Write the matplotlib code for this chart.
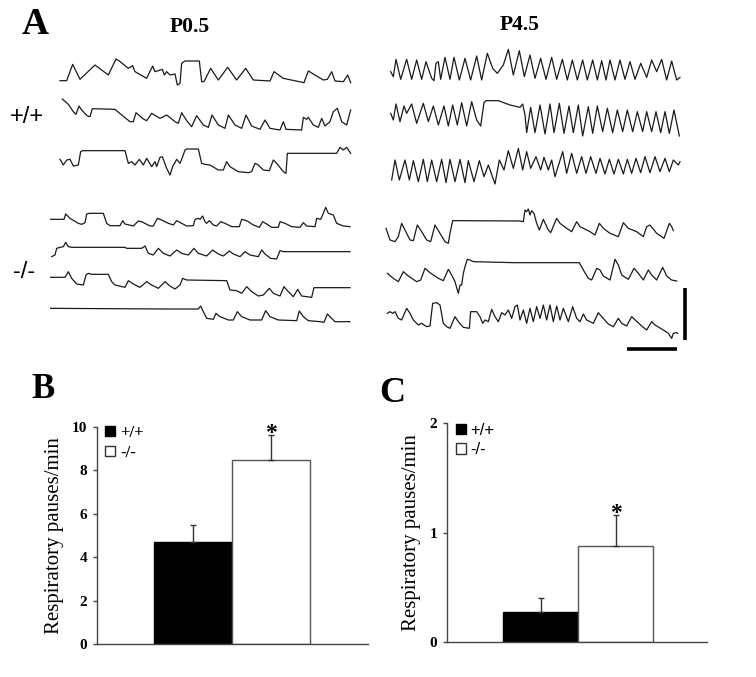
import matplotlib
matplotlib.use("Agg")
import matplotlib.pyplot as plt
from matplotlib.patches import Patch
import numpy as np

plt.rcParams['font.family'] = ['Liberation Serif', 'DejaVu Serif']

# ---- panel A: breathing traces (time, amplitude) in arbitrary units ----
# P0.5, +/+
p05_wt1_t = [180, 200, 218, 240, 285, 325, 348, 358, 385, 398, 405, 440, 458, 465, 487, 493, 500, 510, 525, 532, 540, 545, 555, 598, 605, 612, 632, 655, 683, 710, 737, 760, 810, 822, 850, 912, 925, 970, 982, 995, 1005, 1030, 1043, 1052]
p05_wt1_v = [13, 13, 62, 17, 60, 30, 78, 72, 50, 58, 40, 20, 57, 40, 47, 30, 40, 30, 33, 0, 5, 65, 72, 72, 10, 10, 50, 15, 53, 15, 50, 15, 12, 40, 20, 7, 42, 15, 17, 40, 12, 10, 30, 7]
p05_wt2_t = [187, 205, 220, 228, 237, 245, 262, 270, 277, 345, 365, 390, 400, 408, 430, 440, 455, 480, 500, 525, 535, 545, 560, 575, 590, 610, 625, 636, 655, 675, 685, 705, 725, 738, 755, 780, 795, 810, 840, 850, 858, 905, 910, 920, 925, 940, 955, 965, 975, 990, 1000, 1012, 1025, 1040, 1052]
p05_wt2_v = [93, 77, 55, 47, 72, 60, 42, 40, 64, 62, 45, 25, 25, 52, 33, 28, 50, 35, 45, 25, 20, 52, 28, 10, 43, 15, 8, 45, 15, 5, 45, 15, 5, 45, 12, 2, 30, 5, 0, 25, 2, 0, 38, 32, 38, 15, 8, 35, 12, 25, 55, 65, 25, 15, 60]
p05_wt3_t = [180, 190, 200, 210, 220, 235, 242, 248, 375, 385, 395, 405, 418, 430, 440, 455, 465, 470, 480, 487, 500, 510, 518, 530, 540, 548, 555, 560, 595, 605, 615, 630, 655, 670, 680, 690, 715, 745, 755, 765, 775, 790, 808, 820, 830, 850, 858, 862, 1010, 1020, 1030, 1040, 1052]
p05_wt3_v = [47, 30, 45, 47, 27, 30, 70, 73, 73, 35, 40, 30, 47, 30, 50, 25, 40, 25, 53, 55, 20, 0, 25, 47, 35, 55, 75, 78, 78, 35, 32, 30, 15, 15, 40, 25, 10, 7, 10, 35, 30, 15, 13, 45, 35, 10, 5, 65, 65, 83, 75, 83, 65]
# P0.5, -/-
p05_ko1_t = [152, 192, 197, 210, 235, 245, 255, 260, 268, 310, 320, 330, 360, 368, 375, 400, 415, 425, 450, 460, 472, 485, 505, 520, 530, 545, 560, 580, 585, 595, 600, 608, 615, 620, 628, 640, 650, 662, 675, 695, 718, 725, 740, 760, 778, 788, 800, 815, 835, 840, 855, 875, 900, 910, 920, 945, 950, 962, 970, 977, 985, 1000, 1010, 1030, 1050]
p05_ko1_v = [24, 24, 40, 27, 12, 9, 14, 40, 42, 42, 12, 5, 5, 20, 10, 4, 19, 17, 4, 4, 27, 22, 12, 7, 20, 12, 4, 5, 24, 27, 24, 34, 17, 12, 20, 7, 4, 17, 12, 2, 2, 24, 20, 7, 0, 17, 10, 0, 0, 17, 12, 2, 0, 14, 4, 2, 27, 24, 42, 60, 42, 37, 12, 4, 2]
p05_ko2_t = [155, 165, 170, 180, 190, 197, 205, 215, 375, 380, 425, 435, 445, 460, 475, 490, 510, 530, 545, 565, 582, 595, 620, 638, 655, 670, 688, 700, 720, 735, 750, 775, 785, 795, 812, 830, 840, 850, 1050]
p05_ko2_v = [7, 12, 32, 35, 37, 50, 37, 35, 35, 32, 32, 39, 17, 12, 32, 17, 9, 27, 17, 12, 32, 17, 9, 27, 15, 9, 24, 15, 7, 22, 12, 7, 27, 15, 2, 0, 25, 22, 22]
p05_ko3_t = [152, 195, 205, 215, 230, 250, 258, 265, 275, 325, 335, 345, 375, 385, 400, 420, 440, 455, 475, 495, 510, 525, 540, 548, 560, 680, 690, 710, 725, 740, 755, 775, 790, 808, 820, 840, 852, 865, 880, 893, 905, 935, 942, 1050]
p05_ko3_v = [60, 60, 77, 57, 40, 37, 67, 72, 69, 69, 47, 37, 30, 50, 40, 30, 47, 37, 27, 47, 34, 25, 37, 57, 52, 50, 22, 20, 12, 32, 17, 4, 7, 27, 12, 4, 32, 17, 2, 24, 4, 0, 29, 29]
p05_ko4_t = [152, 500, 595, 602, 610, 620, 640, 648, 660, 685, 700, 712, 725, 750, 785, 797, 810, 835, 890, 898, 910, 925, 960, 972, 982, 990, 1005, 1050]
p05_ko4_v = [42, 40, 40, 49, 32, 12, 9, 27, 17, 7, 7, 32, 17, 7, 7, 35, 17, 7, 5, 34, 17, 5, 2, 0, 25, 17, 2, 2]
# P4.5, +/+
p45_wt1_t = [32, 40, 48, 62, 80, 95, 110, 125, 138, 155, 162, 168, 175, 182, 195, 210, 222, 238, 255, 272, 290, 305, 322, 338, 352, 370, 385, 400, 418, 433, 450, 465, 482, 498, 515, 530, 547, 562, 577, 592, 608, 622, 638, 652, 665, 678, 690, 705, 720, 735, 750, 765, 782, 800, 815, 830, 845, 860, 875, 890, 900]
p45_wt1_v = [27, 12, 64, 4, 64, 4, 62, 4, 57, 7, 0, 52, 57, 4, 70, 4, 70, 2, 67, 2, 74, 2, 82, 37, 22, 47, 94, 17, 90, 12, 77, 7, 67, 4, 70, 4, 64, 2, 62, 2, 62, 2, 62, 2, 60, 2, 62, 2, 62, 4, 57, 4, 52, 10, 62, 27, 64, 2, 59, 2, 10]
p45_wt2_t = [32, 40, 48, 60, 72, 80, 95, 110, 130, 145, 160, 175, 192, 205, 218, 232, 245, 260, 275, 290, 302, 312, 318, 355, 390, 420, 428, 435, 440, 452, 465, 480, 495, 510, 522, 538, 552, 567, 580, 595, 608, 625, 638, 652, 668, 682, 698, 712, 728, 742, 758, 772, 788, 800, 815, 828, 842, 855, 868, 882, 898]
p45_wt2_v = [68, 48, 96, 43, 90, 68, 96, 38, 98, 43, 90, 33, 90, 30, 93, 33, 100, 30, 103, 48, 30, 100, 106, 106, 93, 86, 96, 63, 10, 86, 10, 93, 6, 96, 10, 98, 8, 90, 10, 93, 0, 88, 8, 90, 13, 83, 10, 78, 13, 78, 13, 73, 13, 73, 13, 73, 10, 73, 8, 78, 0]
p45_wt3_t = [35, 45, 58, 75, 88, 100, 115, 130, 142, 155, 170, 185, 198, 210, 225, 240, 255, 265, 282, 298, 312, 325, 345, 358, 372, 385, 400, 415, 428, 440, 452, 468, 482, 492, 505, 515, 525, 548, 560, 575, 590, 605, 618, 632, 648, 660, 675, 688, 702, 715, 730, 742, 755, 768, 782, 795, 810, 825, 840, 855, 868, 880, 895, 900]
p45_wt3_v = [12, 72, 12, 72, 12, 70, 7, 74, 7, 72, 7, 74, 4, 74, 7, 74, 4, 70, 7, 70, 22, 57, 0, 72, 42, 100, 47, 107, 42, 97, 47, 82, 42, 80, 42, 72, 22, 97, 32, 92, 32, 82, 32, 82, 32, 77, 30, 74, 30, 74, 30, 74, 32, 77, 34, 82, 34, 82, 37, 77, 37, 72, 57, 67]
# P4.5, -/-
p45_ko1_t = [18, 30, 45, 55, 65, 80, 90, 100, 112, 125, 140, 152, 165, 180, 195, 205, 210, 218, 235, 420, 430, 435, 440, 445, 450, 455, 462, 470, 478, 490, 505, 512, 530, 540, 560, 575, 590, 600, 630, 645, 658, 670, 690, 715, 730, 745, 770, 790, 800, 810, 830, 852, 868, 875, 880]
p45_ko1_v = [45, 10, 5, 20, 60, 30, 10, 8, 55, 35, 10, 5, 55, 30, 5, 0, 30, 68, 68, 67, 65, 100, 95, 103, 85, 98, 90, 60, 40, 72, 40, 32, 75, 60, 45, 35, 65, 50, 35, 25, 60, 45, 30, 20, 62, 45, 35, 20, 50, 55, 30, 15, 60, 50, 38]
p45_ko2_t = [22, 40, 55, 70, 85, 110, 122, 135, 150, 175, 190, 205, 215, 225, 232, 235, 240, 245, 250, 255, 262, 270, 280, 400, 598, 610, 625, 635, 650, 660, 670, 690, 705, 715, 725, 745, 762, 775, 790, 805, 815, 830, 848, 860, 875, 890]
p45_ko2_v = [60, 45, 35, 65, 52, 35, 40, 75, 62, 45, 38, 72, 55, 35, 10, 0, 25, 25, 60, 80, 102, 100, 95, 92, 92, 70, 45, 40, 75, 70, 52, 40, 102, 85, 55, 42, 75, 60, 40, 70, 55, 40, 78, 52, 40, 37]
p45_ko3_t = [22, 30, 38, 45, 55, 65, 80, 90, 100, 115, 125, 140, 150, 158, 170, 180, 190, 200, 210, 225, 235, 250, 268, 272, 290, 300, 308, 315, 325, 335, 345, 355, 365, 375, 385, 395, 405, 412, 420, 430, 440, 450, 460, 470, 480, 490, 500, 510, 520, 530, 540, 550, 565, 578, 590, 600, 610, 620, 640, 655, 665, 685, 700, 715, 725, 740, 755, 768, 785, 800, 815, 825, 850, 865, 875, 880, 888, 893]
p45_ko3_v = [75, 80, 75, 80, 60, 55, 90, 75, 55, 40, 45, 35, 37, 105, 107, 100, 45, 35, 30, 65, 50, 33, 30, 80, 80, 65, 45, 55, 50, 87, 65, 50, 77, 70, 85, 60, 95, 100, 55, 85, 45, 90, 50, 95, 60, 100, 55, 100, 50, 97, 55, 90, 50, 95, 60, 50, 73, 55, 45, 77, 65, 43, 35, 60, 45, 37, 65, 53, 37, 25, 50, 40, 25, 15, 0, 15, 17, 15]

genotype_labels = ['+/+', '-/-']
ages = ['P0.5', 'P4.5']

# ---- panels B and C: pauses per minute ----
pauses_p05 = [4.7, 8.5]
pauses_p05_sem = [0.78, 1.15]
pauses_p45 = [0.27, 0.88]
pauses_p45_sem = [0.13, 0.28]

W, H = 756, 677
fig = plt.figure(figsize=(W / 100, H / 100), dpi=100)

def fx(px):
    return px / W

def fy(py):
    return 1 - py / H

# trace area (units: 1/3 pixel)
axA = fig.add_axes([0, fy(360), 1, 360 / H])
axA.set_xlim(0, 3 * W)
axA.set_ylim(1080, 0)
axA.axis('off')

left_traces = [(p05_wt1_t, p05_wt1_v), (p05_wt2_t, p05_wt2_v), (p05_wt3_t, p05_wt3_v),
               (p05_ko1_t, p05_ko1_v), (p05_ko2_t, p05_ko2_v), (p05_ko3_t, p05_ko3_v),
               (p05_ko4_t, p05_ko4_v)]
left_rows = [255, 390, 525, 682, 777, 892, 967]
right_traces = [(p45_wt1_t, p45_wt1_v), (p45_wt2_t, p45_wt2_v), (p45_wt3_t, p45_wt3_v),
                (p45_ko1_t, p45_ko1_v), (p45_ko2_t, p45_ko2_v), (p45_ko3_t, p45_ko3_v)]
right_rows = [242, 408, 552, 730, 880, 1015]

for (t, v), row in zip(left_traces, left_rows):
    axA.plot(np.array(t), row - np.array(v), color='#1a1a1a', lw=0.9)
for (t, v), row in zip(right_traces, right_rows):
    axA.plot(np.array(t) + 1140, row - np.array(v), color='#1a1a1a', lw=0.9)

# scale bars
axA.plot([2055, 2055], [864, 1020], color='black', lw=2.6, solid_capstyle='butt')
axA.plot([1881, 2031], [1047, 1047], color='black', lw=2.6, solid_capstyle='butt')

sans = ['Liberation Sans', 'DejaVu Sans']
fig.text(fx(35), fy(25), 'A', fontsize=27, fontweight='bold', ha='center', va='center')
fig.text(fx(190), fy(27), ages[0], fontsize=15.5, fontweight='bold', ha='center', va='center')
fig.text(fx(520), fy(25), ages[1], fontsize=15.5, fontweight='bold', ha='center', va='center')
fig.text(fx(27), fy(117), genotype_labels[0], fontsize=17, family=sans, ha='center', va='center')
fig.text(fx(24), fy(272), genotype_labels[1], fontsize=17, family=sans, ha='center', va='center')
fig.text(fx(43), fy(389), 'B', fontsize=25, fontweight='bold', ha='center', va='center')
fig.text(fx(392), fy(394), 'C', fontsize=26, fontweight='bold', ha='center', va='center')


def bar_panel(rect, vals, errs, ymax, ticks, xlim, legend_prop, anchor):
    ax = fig.add_axes(rect)
    x = np.arange(len(vals))
    ax.bar(x, vals, width=1.0, align='edge', color=['black', 'white'],
           edgecolor=['black', '#555555'], linewidth=1)
    ax.errorbar(x + 0.5, vals, yerr=[np.zeros(len(vals)), errs], fmt='none',
                ecolor='#333333', elinewidth=1, capsize=2, capthick=1)
    ax.set_xlim(*xlim)
    ax.set_ylim(0, ymax)
    ax.set_yticks(ticks)
    ax.set_yticklabels([str(tk) for tk in ticks], fontweight='bold', fontsize=11)
    ax.set_xticks([])
    for s in ['top', 'right']:
        ax.spines[s].set_visible(False)
    for s in ['left', 'bottom']:
        ax.spines[s].set_color('#444444')
        ax.spines[s].set_linewidth(1)
    ax.tick_params(axis='y', length=3, width=1, color='#444444', pad=4)
    ax.set_ylabel('Respiratory pauses/min', fontsize=15, labelpad=6)
    ax.annotate('*', (1.5, vals[1] + errs[1]), xytext=(0, -3), textcoords='offset points',
                fontsize=17, fontweight='bold', ha='center', va='baseline')
    handles = [Patch(facecolor='black', edgecolor='black', label=genotype_labels[0]),
               Patch(facecolor='white', edgecolor='#333333', label=genotype_labels[1])]
    ax.legend(handles=handles, loc='upper left', frameon=False, prop=legend_prop,
              handlelength=0.6, handleheight=0.6, handletextpad=0.3,
              labelspacing=0.25, borderpad=0.0, borderaxespad=0.0,
              bbox_to_anchor=anchor)
    return ax


bar_panel([fx(97), fy(644), (368 - 97) / W, (644 - 427) / H],
          pauses_p05, pauses_p05_sem, 10, [0, 2, 4, 6, 8, 10], (-0.731, 2.744),
          {'weight': 'bold', 'size': 12, 'family': 'Liberation Serif'}, (0.03, 1.01))
bar_panel([fx(447), fy(642), (707 - 447) / W, (642 - 423) / H],
          pauses_p45, pauses_p45_sem, 2, [0, 1, 2], (-0.747, 2.72),
          {'weight': 'normal', 'size': 12, 'family': 'Liberation Sans'}, (0.033, 1.0))

fig.savefig('out.png', dpi=100)
